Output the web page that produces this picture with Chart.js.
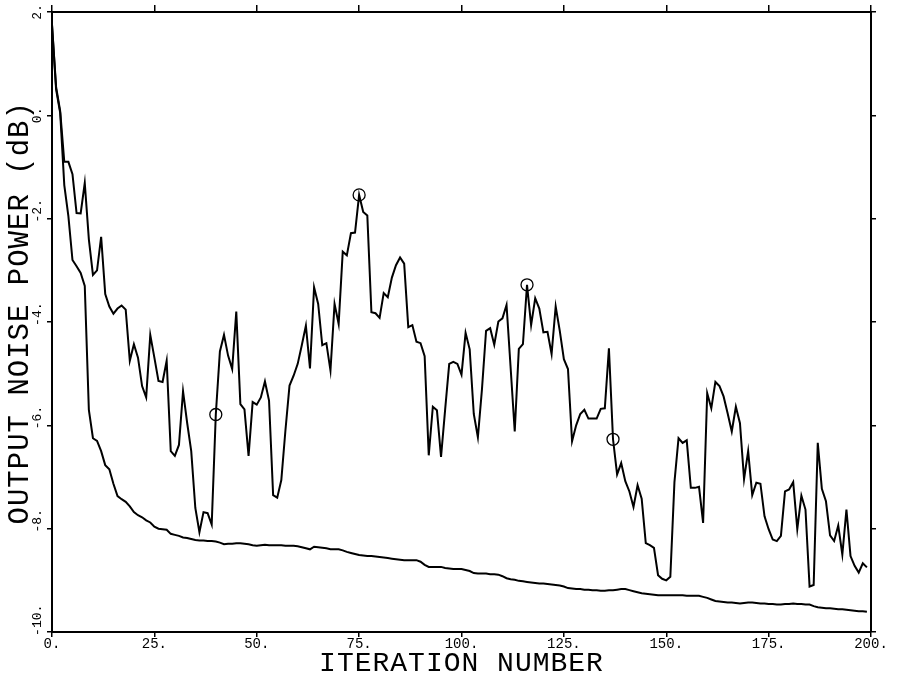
<!DOCTYPE html>
<html>
<head>
<meta charset="utf-8">
<script src="https://cdn.jsdelivr.net/npm/chart.js@4.4.1/dist/chart.umd.min.js"></script>
<style>
  html, body { margin: 0; padding: 0; background: #ffffff; }
  #wrap { width: 897px; height: 681px; }
  canvas { display: block; }
</style>
</head>
<body>
<div id="wrap"><canvas id="chart" width="897" height="681"></canvas></div>
<script>
// ---- data ----
const upperPower = [
  1.75, 0.55, 0.08, -0.90, -0.90, -1.14, -1.89, -1.90, -1.31, -2.40,
  -3.09, -3.00, -2.35, -3.46, -3.70, -3.84, -3.74, -3.68, -3.76, -4.75,
  -4.43, -4.69, -5.24, -5.46, -4.25, -4.69, -5.14, -5.16, -4.75, -6.50,
  -6.59, -6.38, -5.34, -5.95, -6.50, -7.60, -8.07, -7.68, -7.70, -7.92,
  -5.79, -4.57, -4.25, -4.65, -4.91, -3.80, -5.59, -5.69, -6.59, -5.55,
  -5.60, -5.46, -5.15, -5.52, -7.35, -7.40, -7.06, -6.10, -5.23, -5.04,
  -4.81, -4.45, -4.07, -4.90, -3.33, -3.65, -4.45, -4.41, -4.94, -3.65,
  -4.04, -2.64, -2.71, -2.28, -2.27, -1.54, -1.87, -1.94, -3.81, -3.83,
  -3.92, -3.44, -3.52, -3.14, -2.90, -2.75, -2.87, -4.10, -4.06, -4.38,
  -4.41, -4.66, -6.58, -5.64, -5.71, -6.61, -5.70, -4.81, -4.77, -4.81,
  -5.02, -4.21, -4.53, -5.78, -6.23, -5.30, -4.17, -4.12, -4.44, -3.99,
  -3.93, -3.67, -4.89, -6.12, -4.52, -4.43, -3.28, -4.06, -3.54, -3.74,
  -4.20, -4.19, -4.62, -3.70, -4.17, -4.72, -4.91, -6.31, -6.00, -5.78,
  -5.70, -5.87, -5.87, -5.87, -5.68, -5.67, -4.51, -6.27, -6.95, -6.73,
  -7.08, -7.28, -7.58, -7.16, -7.42, -8.28, -8.32, -8.37, -8.90, -8.97,
  -9.00, -8.93, -7.10, -6.25, -6.34, -6.29, -7.21, -7.21, -7.19, -7.89,
  -5.38, -5.67, -5.16, -5.24, -5.44, -5.77, -6.12, -5.64, -5.96, -7.04,
  -6.50, -7.35, -7.11, -7.13, -7.76, -8.01, -8.21, -8.24, -8.14, -7.28,
  -7.24, -7.10, -8.01, -7.36, -7.63, -9.12, -9.09, -6.34, -7.23, -7.47,
  -8.13, -8.24, -7.94, -8.50, -7.63, -8.53, -8.72, -8.85, -8.67, -8.75
];

const lowerPower = [
  1.75, 0.50, 0.05, -1.35, -1.95, -2.80, -2.92, -3.05, -3.30, -5.70,
  -6.25, -6.30, -6.50, -6.77, -6.85, -7.13, -7.37, -7.43, -7.48, -7.57,
  -7.68, -7.74, -7.78, -7.84, -7.88, -7.96, -8.00, -8.01, -8.02, -8.10,
  -8.12, -8.14, -8.17, -8.18, -8.20, -8.22, -8.23, -8.23, -8.24, -8.24,
  -8.25, -8.27, -8.30, -8.29, -8.29, -8.28, -8.28, -8.29, -8.30, -8.32,
  -8.33, -8.32, -8.31, -8.32, -8.32, -8.32, -8.32, -8.33, -8.33, -8.33,
  -8.34, -8.36, -8.38, -8.40, -8.35, -8.36, -8.37, -8.38, -8.40, -8.40,
  -8.40, -8.42, -8.45, -8.47, -8.49, -8.51, -8.52, -8.53, -8.53, -8.54,
  -8.55, -8.56, -8.57, -8.58, -8.59, -8.60, -8.61, -8.61, -8.61, -8.61,
  -8.64, -8.70, -8.74, -8.74, -8.74, -8.74, -8.76, -8.77, -8.78, -8.78,
  -8.78, -8.80, -8.82, -8.86, -8.87, -8.87, -8.87, -8.88, -8.88, -8.89,
  -8.92, -8.96, -8.98, -8.99, -9.01, -9.02, -9.03, -9.04, -9.05, -9.06,
  -9.06, -9.07, -9.08, -9.09, -9.10, -9.12, -9.15, -9.16, -9.17, -9.17,
  -9.18, -9.18, -9.19, -9.19, -9.20, -9.20, -9.19, -9.19, -9.18, -9.17,
  -9.17, -9.19, -9.21, -9.23, -9.25, -9.26, -9.27, -9.28, -9.29, -9.29,
  -9.29, -9.29, -9.29, -9.29, -9.29, -9.30, -9.30, -9.30, -9.30, -9.32,
  -9.34, -9.37, -9.40, -9.41, -9.42, -9.43, -9.43, -9.44, -9.45, -9.44,
  -9.43, -9.43, -9.44, -9.45, -9.45, -9.46, -9.46, -9.47, -9.47, -9.46,
  -9.46, -9.45, -9.46, -9.46, -9.47, -9.47, -9.50, -9.52, -9.53, -9.54,
  -9.54, -9.55, -9.56, -9.56, -9.57, -9.58, -9.59, -9.60, -9.60, -9.61
];

const markerIterations = [40, 75, 116, 137];

const xTickValues = [0, 25, 50, 75, 100, 125, 150, 175, 200];
const xTickLabels = ['0.', '25.', '50.', '75.', '100.', '125.', '150.', '175.', '200.'];
const yTickValues = [-10, -8, -6, -4, -2, 0, 2];
// leading blanks keep the rotated negative labels sitting above their tick, as in the original
const yTickLabels = ['   -10.', '  -8.', '  -6.', '  -4.', '  -2.', '0.', '2.'];

const xTitle = 'ITERATION NUMBER';
const yTitle = ' OUTPUT NOISE POWER (dB)';

// iteration numbers (categories) follow the data order
const iterations = upperPower.map((_, i) => i);
const markerPoints = markerIterations.map(i => ({ x: i, y: upperPower[i] }));

// ---- chart ----
const FONT = "'Liberation Mono', 'DejaVu Sans Mono', monospace";
const gridOpts = (len) => ({
  drawOnChartArea: false, drawTicks: true, tickLength: len,
  color: '#000', lineWidth: 1.5
});
const borderOpts = { display: true, color: '#000', width: 2 };

const titleSpacing = {
  id: 'titleSpacing',
  beforeDraw(chart) { chart.ctx.letterSpacing = '1px'; },
  beforeDatasetsDraw(chart) { chart.ctx.letterSpacing = '0px'; },
  afterDraw(chart) { chart.ctx.letterSpacing = '0px'; }
};

new Chart(document.getElementById('chart'), {
  type: 'line',
  data: {
    labels: iterations,
    datasets: [
      {
        label: 'upper',
        data: upperPower,
        borderColor: '#000',
        borderWidth: 2,
        pointRadius: 0,
        tension: 0,
        fill: false
      },
      {
        label: 'lower',
        data: lowerPower,
        borderColor: '#000',
        borderWidth: 2,
        pointRadius: 0,
        tension: 0,
        fill: false
      },
      {
        label: 'markers',
        data: markerPoints,
        showLine: false,
        pointStyle: 'circle',
        pointRadius: 6,
        pointBorderWidth: 1.3,
        pointBorderColor: '#000',
        pointBackgroundColor: 'rgba(0,0,0,0)'
      }
    ]
  },
  options: {
    responsive: false,
    animation: false,
    devicePixelRatio: 1,
    layout: { padding: 0 },
    plugins: { legend: { display: false }, tooltip: { enabled: false } },
    scales: {
      x: {
        type: 'linear', position: 'bottom', min: 0, max: 200,
        ticks: {
          stepSize: 25, autoSkip: false, maxRotation: 0, minRotation: 0,
          padding: -1, color: '#000', z: 1,
          font: { family: FONT, size: 14 },
          callback: (v) => xTickLabels[xTickValues.indexOf(v)]
        },
        grid: gridOpts(5),
        border: borderOpts,
        title: {
          display: true, text: xTitle, color: '#000',
          font: { family: FONT, size: 28 },
          padding: { top: 0, bottom: 1 }
        },
        afterFit: (s) => { s.height = 49; }
      },
      x2: {
        type: 'linear', position: 'top', min: 0, max: 200,
        ticks: { stepSize: 25, display: false },
        grid: gridOpts(7),
        border: borderOpts,
        afterFit: (s) => { s.height = 12; }
      },
      y: {
        type: 'linear', position: 'left', min: -10, max: 2,
        ticks: {
          stepSize: 2, autoSkip: false, minRotation: 90, maxRotation: 90,
          crossAlign: 'center', padding: -17.5, color: '#000', z: 1,
          font: { family: FONT, size: 13 },
          callback: (v) => yTickLabels[yTickValues.indexOf(v)]
        },
        grid: gridOpts(5),
        border: borderOpts,
        title: {
          display: true, text: yTitle, color: '#000',
          font: { family: FONT, size: 29 },
          padding: { top: 3, bottom: 0 }
        },
        afterFit: (s) => { s.width = 52; }
      },
      y2: {
        type: 'linear', position: 'right', min: -10, max: 2,
        ticks: { stepSize: 2, display: false },
        grid: gridOpts(5),
        border: borderOpts,
        afterFit: (s) => { s.width = 26; }
      }
    }
  },
  plugins: [titleSpacing]
});
</script>
</body>
</html>
